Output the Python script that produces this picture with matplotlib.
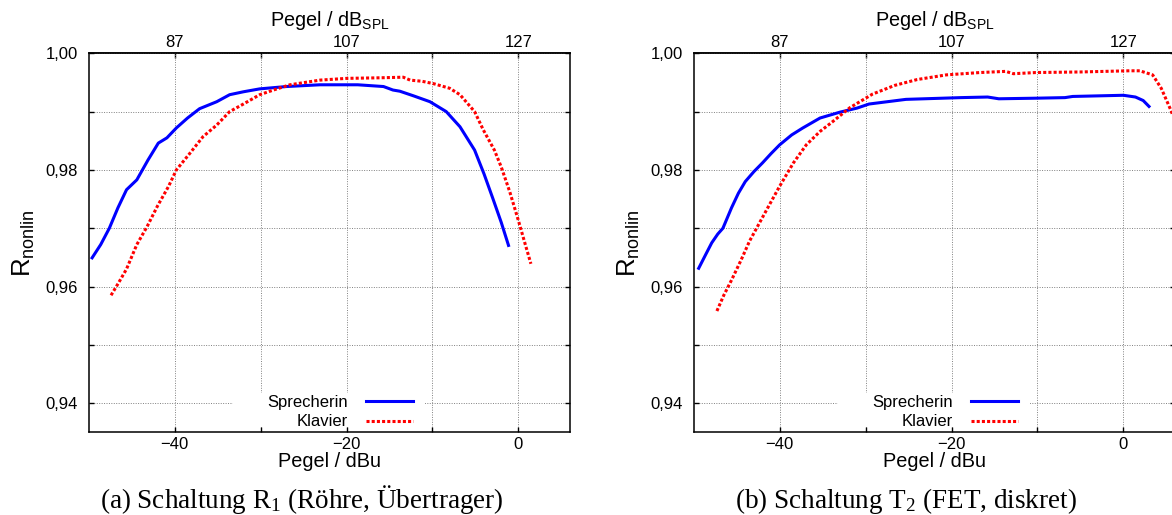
import matplotlib
matplotlib.use("Agg")
import matplotlib.pyplot as plt
from matplotlib.ticker import FixedLocator, FuncFormatter
from matplotlib.lines import Line2D
from matplotlib.patches import Rectangle

plt.rcParams['font.family'] = ['Liberation Sans', 'DejaVu Sans']

# ---------------- data ----------------
# (a) Schaltung R1
r1_sprech_x = [-49.7, -48.6, -47.6, -46.6, -45.6, -44.4, -43.1, -41.9, -40.9, -39.8, -38.5, -37.1,
               -35.1, -33.6, -32.0, -30.1, -27.0, -23.1, -18.7, -15.7, -14.6, -13.8, -12.2, -10.3,
               -8.4, -6.8, -5.1, -4.0, -3.0, -2.0, -1.1]
r1_sprech_y = [0.9647, 0.9672, 0.9700, 0.9735, 0.9766, 0.9783, 0.9817, 0.9846, 0.9855, 0.9872, 0.9889, 0.9905,
               0.9917, 0.9929, 0.9934, 0.9939, 0.9943, 0.9946, 0.9946, 0.9943, 0.9937, 0.9935, 0.9927, 0.9917,
               0.9900, 0.9874, 0.9834, 0.9793, 0.9752, 0.9710, 0.9668]
r1_klavier_x = [-47.4, -46.5, -45.6, -44.4, -43.2, -42.0, -40.7, -39.8, -38.2, -36.7, -35.1, -33.6, -32.0,
                -30.1, -28.3, -26.6, -23.1, -20.0, -16.1, -13.4, -12.6, -11.2, -9.9, -8.0, -6.8, -5.1,
                -4.1, -2.8, -2.0, -1.0, 0.0, 0.8, 1.45]
r1_klavier_y = [0.9585, 0.9607, 0.9630, 0.9672, 0.9703, 0.9738, 0.9772, 0.9800, 0.9829, 0.9857, 0.9877, 0.9900, 0.9913,
                0.9929, 0.9938, 0.9946, 0.9954, 0.9957, 0.9958, 0.9959, 0.9954, 0.9952, 0.9948, 0.9940, 0.9929, 0.9900,
                0.9869, 0.9834, 0.9805, 0.9762, 0.9713, 0.9672, 0.9639]

# (b) Schaltung T2
t2_sprech_x = [-49.5, -48.6, -47.9, -47.2, -46.6, -45.6, -44.8, -44.0, -43.0, -42.0, -41.0, -40.0, -38.6,
               -37.3, -35.3, -33.0, -31.0, -29.6, -25.3, -18.9, -15.8, -14.5, -10.2, -6.8, -5.9, 0.0,
               1.4, 2.3, 3.1]
t2_sprech_y = [0.9629, 0.9655, 0.9675, 0.9690, 0.9700, 0.9735, 0.9760, 0.9780, 0.9797, 0.9812, 0.9828, 0.9843, 0.9860,
               0.9872, 0.9889, 0.9899, 0.9906, 0.9913, 0.9921, 0.9924, 0.9925, 0.9922, 0.9923, 0.9924, 0.9926, 0.9928,
               0.9925, 0.9919, 0.9907]
t2_klavier_x = [-47.3, -46.5, -45.6, -44.5, -43.5, -42.5, -41.2, -40.0, -38.4, -36.9, -35.3, -33.9, -31.8,
                -29.2, -26.6, -24.0, -20.6, -16.7, -13.7, -12.8, -10.2, -5.0, 0.7, 1.9, 3.4, 4.4, 5.5, 6.0]
t2_klavier_y = [0.9558, 0.9585, 0.9611, 0.9645, 0.9678, 0.9705, 0.9740, 0.9772, 0.9812, 0.9843, 0.9866, 0.9882, 0.9907,
                0.9930, 0.9945, 0.9955, 0.9963, 0.9967, 0.9969, 0.9965, 0.9967, 0.9968, 0.9970, 0.9970, 0.9963, 0.9940,
                0.9903, 0.9885]

series_labels = ['Sprecherin', 'Klavier']
captions = [r'(a) Schaltung R$\mathregular{_1}$ (Röhre, Übertrager)',
            r'(b) Schaltung T$\mathregular{_2}$ (FET, diskret)']
x_major = [-40, -20, 0]
x_minor = [-30, -10]
y_major = [0.94, 0.96, 0.98, 1.00]
y_minor = [0.95, 0.97, 0.99]
spl_offset = 127

# ---------------- figure ----------------
W, H = 1172, 515
fig = plt.figure(figsize=(W / 100, H / 100), dpi=100)

ax_w = 481.3
ax_top, ax_bot = 53.3, 432.3
lefts = [88.7, 693.7]
datasets = [(r1_sprech_x, r1_sprech_y, r1_klavier_x, r1_klavier_y),
            (t2_sprech_x, t2_sprech_y, t2_klavier_x, t2_klavier_y)]
cap_centers = [302, 906]

red_dash = (0, (1, 0.7))

for i, (left, data) in enumerate(zip(lefts, datasets)):
    ax = fig.add_axes([left / W, 1 - ax_bot / H, ax_w / W, (ax_bot - ax_top) / H])
    sx, sy, kx, ky = data
    ax.plot(sx, sy, color='#0000ff', lw=2.2, solid_capstyle='butt', zorder=3)
    ax.plot(kx, ky, color='#ff0000', lw=2.2, linestyle=red_dash, zorder=3)
    ax.set_xlim(-50, 6)
    ax.set_ylim(0.935, 1.0)

    ax.xaxis.set_major_locator(FixedLocator(x_major))
    ax.xaxis.set_minor_locator(FixedLocator(x_minor))
    ax.yaxis.set_major_locator(FixedLocator(y_major))
    ax.yaxis.set_minor_locator(FixedLocator(y_minor))
    ax.yaxis.set_major_formatter(FuncFormatter(lambda v, p: f"{v:.2f}".replace('.', ',')))

    ax.grid(True, which='both', linestyle=(0, (1, 1.5)), color='#808080', lw=0.7)
    ax.set_axisbelow(True)
    ax.tick_params(which='both', direction='in', length=3.5, width=1.0, labelsize=12,
                   top=False, right=True, bottom=True, left=True)
    ax.tick_params(axis='y', which='major', pad=8)
    ax.tick_params(axis='x', which='major', pad=3.3)
    for s in ax.spines.values():
        s.set_linewidth(1.1)

    ax.set_xlabel('Pegel / dBu', fontsize=14.3, labelpad=0)
    ax.set_ylabel(r'$\mathregular{R_{nonlin}}$', fontsize=18.5, labelpad=6)

    sec = ax.secondary_xaxis('top', functions=(lambda x: x + spl_offset, lambda x: x - spl_offset))
    sec.xaxis.set_major_locator(FixedLocator([x + spl_offset for x in x_major]))
    sec.xaxis.set_minor_locator(FixedLocator([x + spl_offset for x in x_minor]))
    sec.tick_params(which='both', direction='in', length=3.5, width=1.0, labelsize=12, pad=2.2)
    sec.set_xlabel(r'Pegel / $\mathregular{dB_{SPL}}$', fontsize=14.3, labelpad=7)
    sec.spines['top'].set_linewidth(1.1)

    # white legend background
    ax.add_patch(Rectangle((0.300, 0.014), 0.399, 0.090, transform=ax.transAxes,
                           facecolor='white', edgecolor='none', zorder=1))
    handles = [Line2D([], [], color='#0000ff', lw=2.2),
               Line2D([], [], color='#ff0000', lw=2.2, linestyle=red_dash)]
    ax.legend(handles, series_labels, loc='center', bbox_to_anchor=(0.522, 0.053),
              markerfirst=False, frameon=False, fontsize=12, handlelength=2.8,
              handletextpad=1.07, labelspacing=0.26, borderpad=0.0)

    fig.text(cap_centers[i] / W, 6.5 / H, captions[i], ha='center', va='baseline',
             fontsize=19.5, family=['Liberation Serif', 'DejaVu Serif'])

fig.savefig('out.png', dpi=100)
